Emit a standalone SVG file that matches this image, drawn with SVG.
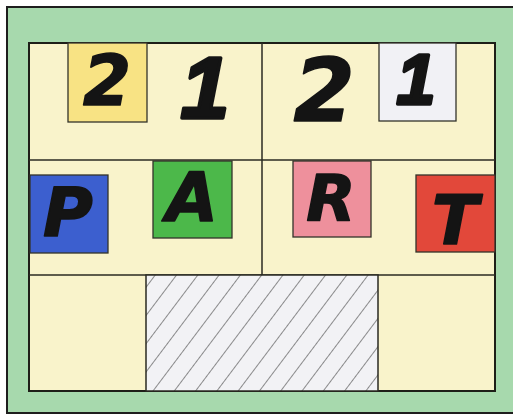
<svg xmlns="http://www.w3.org/2000/svg" width="513" height="415" viewBox="0 0 513 415">
<defs>
<style>
.ln{stroke:#2a2a22;stroke-width:1.5;fill:none}
.box{stroke:#33332a;stroke-width:1.3}
.t{font-family:"DejaVu Sans","Liberation Sans",sans-serif;font-weight:bold;font-style:italic;fill:#141414;stroke:#141414;stroke-width:1.5;stroke-linejoin:round;text-anchor:middle}
.one{font-family:"Liberation Sans",Arial,sans-serif;stroke-width:3.5}
</style>
<pattern id="hatch" patternUnits="userSpaceOnUse" width="17" height="17" patternTransform="rotate(37)">
<rect width="17" height="17" fill="#f2f2f5"/>
<line x1="0" y1="0" x2="0" y2="17" stroke="#707070" stroke-width="1.6"/>
</pattern>
</defs>
<rect x="0" y="0" width="513" height="415" fill="#ffffff"/>
<rect id="frame" x="7" y="7" width="510" height="406" fill="#a7d9ad" stroke="#1e1e1e" stroke-width="2"/>
<rect id="board" x="29" y="43" width="466" height="348" fill="#f9f3cb" stroke="#1e1e18" stroke-width="2"/>
<g id="grid">
<line class="ln" x1="29" y1="160" x2="495" y2="160"/>
<line class="ln" x1="29" y1="275" x2="495" y2="275"/>
<line class="ln" x1="262" y1="43" x2="262" y2="275"/>
</g>
<g id="hatched">
<rect x="146" y="275" width="232" height="116" fill="url(#hatch)" stroke="#2a2a22" stroke-width="1.5"/>
</g>
<g id="n2a"><rect class="box" x="68" y="43" width="79" height="79" fill="#f8e384"/><text class="t" x="107" y="105" font-size="69">2</text></g>
<g id="n1a"><text class="t one" x="205" y="118" font-size="88">1</text></g>
<g id="n2b"><text class="t" x="324" y="121" font-size="88">2</text></g>
<g id="n1b"><rect class="box" x="379" y="43" width="77" height="78" fill="#f1f1f5"/><text class="t one" x="416" y="104" font-size="70">1</text></g>
<g id="nP"><rect class="box" x="30" y="175" width="78" height="78" fill="#3c5fcf"/><text class="t" x="68" y="236" font-size="68">P</text></g>
<g id="nA"><rect class="box" x="153" y="161" width="79" height="77" fill="#4cb84a"/><text class="t" x="192" y="221" font-size="67">A</text></g>
<g id="nR"><rect class="box" x="293" y="161" width="78" height="76" fill="#ee909c"/><text class="t" x="331" y="221" font-size="64">R</text></g>
<g id="nT"><rect class="box" x="416" y="175" width="79" height="77" fill="#e2483a"/><text class="t" x="455" y="244" font-size="68">T</text></g>
</svg>
